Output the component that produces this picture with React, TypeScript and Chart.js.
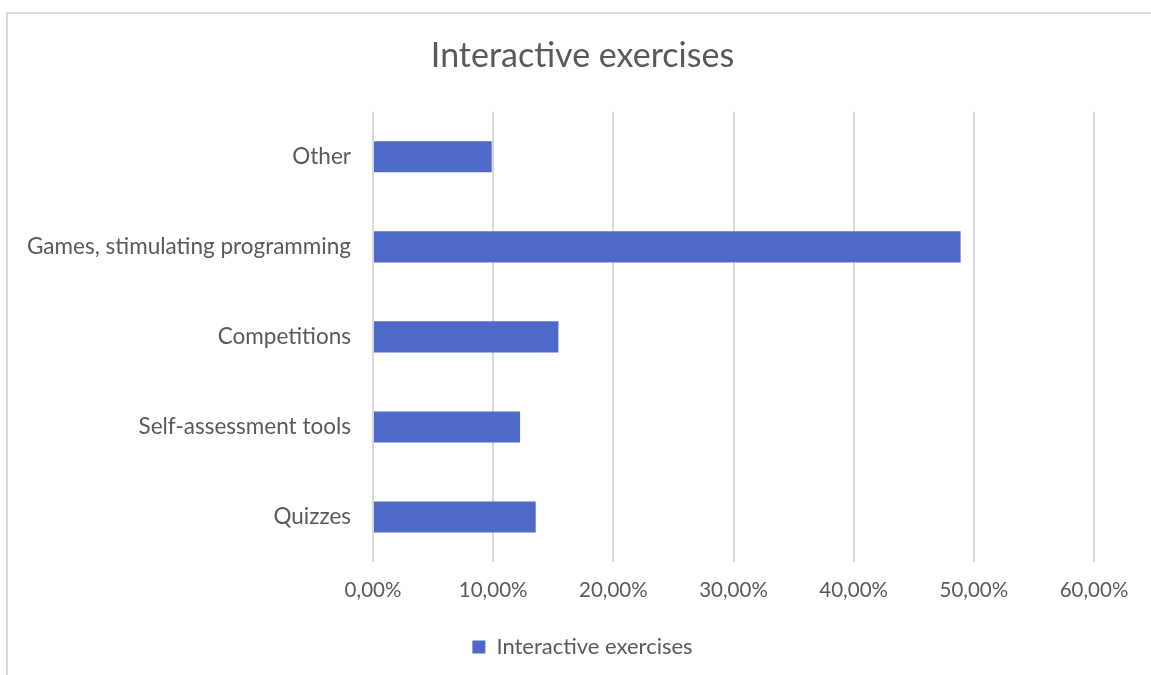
import React, { useEffect, useRef } from "react";
import { Chart, registerables } from "chart.js";

Chart.register(...registerables);

const categories = ["Other", "Games, stimulating programming", "Competitions", "Self-assessment tools", "Quizzes"];
const values = [0.0988, 0.489, 0.1543, 0.1224, 0.1354];
const seriesName = "Interactive exercises";
const titleText = "Interactive exercises";
const xMin = 0;
const xMax = 0.6;
const xStep = 0.1;

const FONT = "Lato, 'Open Sans', sans-serif";
const TEXT = "#595959";
const BAR = "#4F69C9";
const GRID = "#D9D9D9";

export default function App() {
  const ref = useRef<HTMLCanvasElement | null>(null);

  useEffect(() => {
    document.body.style.margin = "0";
    const ctx = ref.current!;
    const chart = new Chart(ctx, {
      type: "bar",
      data: {
        labels: categories,
        datasets: [
          {
            label: seriesName,
            data: values,
            backgroundColor: BAR,
            borderWidth: 0,
            categoryPercentage: 0.345,
            barPercentage: 1,
            yAxisID: "y",
          },
        ],
      },
      options: {
        indexAxis: "y",
        animation: false,
        responsive: false,
        maintainAspectRatio: false,
        layout: { padding: { left: 14, right: 0, top: 0, bottom: 7 } },
        plugins: {
          title: {
            display: true,
            text: titleText,
            color: TEXT,
            font: { family: FONT, size: 34, weight: "normal" },
            padding: { top: 36, bottom: 35 },
          },
          legend: {
            position: "bottom",
            labels: {
              color: TEXT,
              font: { family: FONT, size: 22 },
              boxWidth: 13,
              boxHeight: 13,
              padding: 10,
            },
          },
          tooltip: { enabled: false },
        },
        scales: {
          x: {
            min: xMin,
            max: xMax,
            ticks: {
              stepSize: xStep,
              color: TEXT,
              font: { family: FONT, size: 20.5 },
              padding: 16,
              callback: (v: any) => (Number(v) * 100).toFixed(2).replace(".", ",") + "%",
            },
            grid: { color: GRID, lineWidth: 2, drawTicks: false },
            border: { display: false },
            afterFit: (s: any) => {
              s.height = 64;
            },
          },
          y: {
            position: "left",
            ticks: {
              color: TEXT,
              font: { family: FONT, size: 22.5 },
              padding: 22,
            },
            grid: { display: false, drawTicks: false },
            border: { display: false },
            afterFit: (s: any) => {
              s.width = 359;
            },
          },
          yRight: {
            type: "category",
            position: "right",
            display: true,
            ticks: { display: false },
            grid: { display: false, drawTicks: false },
            border: { display: false },
            afterFit: (s: any) => {
              s.width = 57;
            },
          },
        },
      },
    });
    return () => chart.destroy();
  }, []);

  return (
    <div style={{ position: "fixed", left: 0, top: 0, width: 1151, height: 675, background: "#fff", overflow: "hidden" }}>
      <div
        style={{
          position: "absolute",
          left: 6,
          top: 12,
          width: 1300,
          height: 800,
          borderLeft: "2px solid #D9D9D9",
          borderTop: "2px solid #D9D9D9",
          boxSizing: "border-box",
        }}
      />
      <canvas ref={ref} width={1151} height={675} style={{ position: "absolute", left: 0, top: 0 }} />
    </div>
  );
}
